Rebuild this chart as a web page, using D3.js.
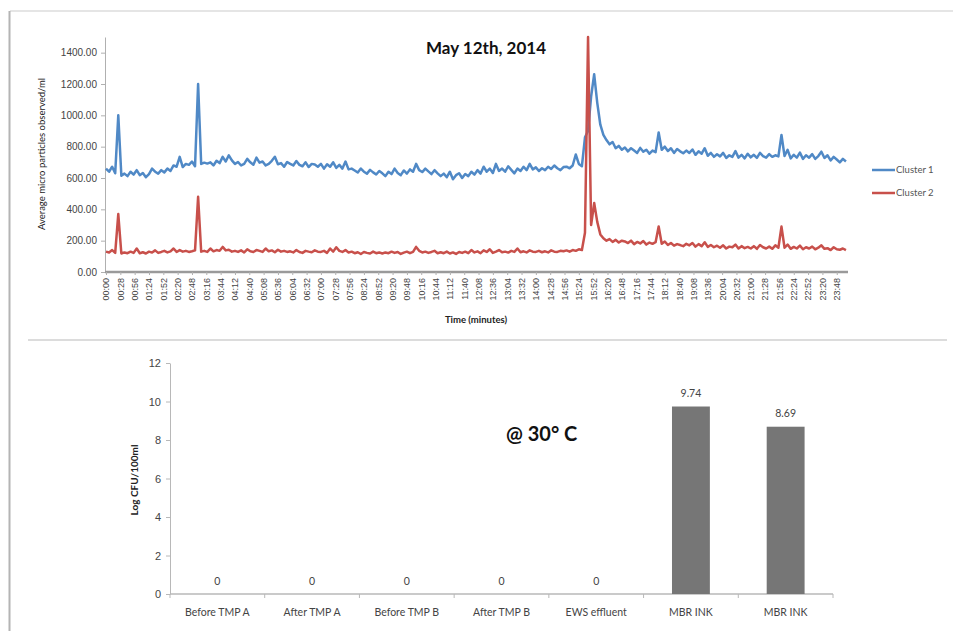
<!DOCTYPE html>
<html>
<head>
<meta charset="utf-8">
<script src="https://cdn.jsdelivr.net/npm/d3@7"></script>
<style>
  body { margin: 0; background: #fff; }
  svg { display: block; font-family: Lato, "Open Sans", sans-serif; }
</style>
</head>
<body>
<script>
// ---- data: top chart, one reading every 6 minutes from 00:00 ----
var stepMinutes = 6;

var cluster1 = [
  660, 640, 672, 630, 1000, 615, 628, 612, 640, 622,
  650, 618, 632, 605, 625, 660, 640, 628, 650, 636,
  660, 645, 680, 672, 735, 670, 690, 684, 705, 675,
  1200, 690, 698, 692, 700, 680, 710, 695, 735, 705,
  745, 712, 690, 702, 680, 690, 722, 700, 685, 730,
  698, 705, 680, 690, 710, 735, 688, 695, 672, 702,
  690, 680, 708, 684, 675, 700, 670, 690, 686, 672,
  690, 660, 688, 672, 700, 665, 684, 660, 705, 655,
  660, 648, 635, 660, 640, 628, 652, 636, 622, 645,
  630, 612, 640, 625, 660, 632, 618, 648, 628, 655,
  640, 690, 650, 638, 660, 642, 625, 650, 630, 612,
  628, 605, 640, 592, 618, 630, 600, 625, 612, 640,
  622, 650, 628, 672, 640, 660, 632, 690, 645, 660,
  640, 675, 652, 630, 660, 645, 672, 650, 690, 655,
  668, 645, 662, 650, 672, 658, 680, 662, 650, 670,
  672, 662, 680, 750, 690, 675, 860, 900, 1120, 1262,
  1080, 940, 875, 842, 815, 830, 790, 805, 780, 795,
  770, 790, 775, 760, 792, 768, 780, 755, 775, 765,
  890, 780, 800, 772, 790, 760, 785, 770, 758, 775,
  760, 782, 748, 770, 755, 790, 742, 760, 735, 752,
  738, 760, 728, 745, 735, 772, 730, 748, 725, 755,
  732, 748, 728, 760, 740, 730, 752, 735, 745, 738,
  875, 740, 780, 725, 748, 730, 762, 722, 745, 730,
  752, 722, 740, 768, 728, 745, 712, 735, 718, 700,
  722, 705
];

var cluster2 = [
  130, 125, 140, 122, 370, 118, 125, 120, 130, 122,
  150, 120, 126, 118, 130, 124, 138, 122, 128, 135,
  125, 132, 150, 128, 140, 130, 135, 128, 132, 138,
  480, 130, 135, 128, 150, 132, 140, 135, 160, 138,
  142, 130, 135, 128, 138, 125, 145, 132, 128, 140,
  135, 128, 150, 132, 138, 126, 142, 130, 135, 128,
  132, 125, 140, 128, 122, 135, 130, 126, 138, 130,
  128, 135, 122, 150, 130, 158, 135, 128, 140, 125,
  130, 120, 126, 115, 128, 122, 118, 130, 120, 125,
  118, 125, 120, 130, 122, 128, 115, 124, 130, 120,
  128, 160, 135, 125, 130, 122, 128, 135, 120, 126,
  120, 130, 118, 125, 115, 128, 122, 130, 120, 140,
  125, 132, 120, 138, 128, 145, 122, 130, 140, 126,
  130, 124, 135, 128, 150, 126, 132, 125, 138, 130,
  128, 135, 126, 132, 125, 138, 130, 128, 135, 132,
  138, 130, 140, 135, 145, 140, 250, 1500, 300, 440,
  320, 240, 215, 200, 210, 192, 205, 188, 200, 195,
  185, 200, 178, 192, 182, 198, 175, 188, 180, 190,
  290, 180, 195, 172, 185, 168, 178, 172, 165, 180,
  170, 185, 162, 178, 165, 190, 160, 172, 158, 168,
  155, 170, 150, 162, 158, 175, 150, 165, 152, 160,
  150, 165, 148, 172, 158, 150, 162, 148, 170, 155,
  290, 155, 175, 148, 160, 150, 168, 145, 158, 150,
  162, 145, 155, 170, 148, 152, 140, 158, 145, 142,
  150, 140
];

var seriesNames = ["Cluster 1", "Cluster 2"];
var seriesColors = ["#5089c6", "#c8504b"];
var lineTicks = [0, 200, 400, 600, 800, 1000, 1200, 1400];
var timeLabelEvery = 28; // minutes between x labels

// ---- data: bottom chart ----
var sites = ["Before TMP A", "After TMP A", "Before TMP B", "After TMP B", "EWS effluent", "MBR INK", "MBR INK"];
var logCfu = [0, 0, 0, 0, 0, 9.74, 8.69];
var barTicks = [0, 2, 4, 6, 8, 10, 12];

var W = 953, H = 631;
var svg = d3.select("body").append("svg").attr("width", W).attr("height", H);

// slide frame
svg.append("line").attr("x1", 10).attr("x2", W).attr("y1", 11).attr("y2", 11)
   .attr("stroke", "#dcdcdc").attr("stroke-width", 1.5);
svg.append("line").attr("x1", 9.5).attr("x2", 9.5).attr("y1", 11).attr("y2", H)
   .attr("stroke", "#b4b4b4").attr("stroke-width", 2);
svg.append("line").attr("x1", 28).attr("x2", 947).attr("y1", 340).attr("y2", 340)
   .attr("stroke", "#d0d0d0").attr("stroke-width", 1.5);

// ================= top: line chart =================
var fmtTime = function(m) {
  var h = Math.floor(m / 60), mm = m % 60;
  return (h < 10 ? "0" : "") + h + ":" + (mm < 10 ? "0" : "") + mm;
};

var x = d3.scaleLinear().domain([0, 1450]).range([106, 848]);
var y = d3.scaleLinear().domain([0, 1500]).range([272, 37]);

var yAxis = svg.append("g").attr("transform", "translate(105,0)")
  .call(d3.axisLeft(y).tickValues(lineTicks).tickFormat(function(d) { return d.toFixed(2); }).tickSize(4).tickSizeOuter(0));
yAxis.select(".domain").attr("stroke", "#b0b0b0");
yAxis.selectAll(".tick line").attr("stroke", "#b0b0b0");
yAxis.selectAll("text").attr("fill", "#444").style("font-size", "10px").attr("x", -8);

var timeTicks = d3.range(0, 1429, timeLabelEvery);
var xAxis = svg.append("g").attr("transform", "translate(0,272)")
  .call(d3.axisBottom(x).tickValues(timeTicks).tickFormat(fmtTime).tickSize(3).tickSizeOuter(0));
xAxis.select(".domain").attr("stroke", "#9a9a9a").attr("stroke-width", 2.5).attr("d", "M105,0H848");
xAxis.selectAll(".tick line").attr("stroke", "#b0b0b0");
xAxis.selectAll("text")
  .attr("fill", "#444").style("font-size", "9px")
  .attr("text-anchor", "end").attr("dy", "0.32em")
  .attr("transform", "translate(0,6) rotate(-90)").attr("y", 0).attr("x", 0);

var line = d3.line()
  .x(function(d, i) { return x(i * stepMinutes); })
  .y(function(d) { return y(d); });

[cluster1, cluster2].forEach(function(s, k) {
  svg.append("path").datum(s)
    .attr("fill", "none")
    .attr("stroke", seriesColors[k])
    .attr("stroke-width", 2.5)
    .attr("stroke-linejoin", "round")
    .attr("d", line);
});

svg.append("text").attr("x", 486).attr("y", 54)
  .attr("text-anchor", "middle").style("font-size", "17px").style("font-weight", "bold")
  .attr("fill", "#111").text("May 12th, 2014");

svg.append("text")
  .attr("transform", "translate(45,154) rotate(-90)")
  .attr("text-anchor", "middle").style("font-size", "9.5px").attr("fill", "#222")
  .text("Average micro particles observed/ml");

svg.append("text").attr("x", 476).attr("y", 323)
  .attr("text-anchor", "middle").style("font-size", "9.5px").style("font-weight", "bold")
  .attr("fill", "#222").text("Time (minutes)");

// legend
seriesNames.forEach(function(n, k) {
  var ly = 170 + k * 23;
  svg.append("line").attr("x1", 872).attr("x2", 895).attr("y1", ly).attr("y2", ly)
    .attr("stroke", seriesColors[k]).attr("stroke-width", 2.5);
  svg.append("text").attr("x", 896).attr("y", ly).attr("dy", "0.35em")
    .style("font-size", "9.5px").attr("fill", "#555").text(n);
});

// ================= bottom: bar chart =================
var bx = d3.scaleBand().domain(d3.range(sites.length)).range([170, 833])
  .paddingInner(0.6).paddingOuter(0.3);
var by = d3.scaleLinear().domain([0, 12]).range([594, 363]);

var byAxis = svg.append("g").attr("transform", "translate(170,0)")
  .call(d3.axisLeft(by).tickValues(barTicks).tickSize(4).tickSizeOuter(0));
byAxis.select(".domain").attr("stroke", "#b8b8b8");
byAxis.selectAll(".tick line").attr("stroke", "#b8b8b8");
byAxis.selectAll("text").attr("fill", "#444").style("font-size", "11px").attr("x", -9);

var seg = bx.step();
var bxAxis = svg.append("g").attr("transform", "translate(0,594)");
bxAxis.append("line").attr("x1", 170).attr("x2", 833).attr("stroke", "#b8b8b8").attr("stroke-width", 1.5);
d3.range(sites.length + 1).forEach(function(i) {
  var bxp = 170 + i * seg;
  bxAxis.append("line").attr("x1", bxp).attr("x2", bxp).attr("y1", 0).attr("y2", 4).attr("stroke", "#b8b8b8");
});
sites.forEach(function(s, i) {
  bxAxis.append("text").attr("x", bx(i) + bx.bandwidth() / 2).attr("y", 18)
    .attr("dy", "0.35em").attr("text-anchor", "middle")
    .style("font-size", "10.5px").attr("fill", "#444").text(s);
});

svg.selectAll("rect.bar").data(logCfu).enter().append("rect")
  .attr("class", "bar")
  .attr("x", function(d, i) { return bx(i); })
  .attr("width", bx.bandwidth())
  .attr("y", function(d) { return by(d); })
  .attr("height", function(d) { return by(0) - by(d); })
  .attr("fill", "#767676");

svg.selectAll("text.val").data(logCfu).enter().append("text")
  .attr("class", "val")
  .attr("x", function(d, i) { return bx(i) + bx.bandwidth() / 2; })
  .attr("y", function(d) { return by(d) - 13; })
  .attr("dy", "0.35em").attr("text-anchor", "middle")
  .style("font-size", "10.5px").attr("fill", "#444")
  .text(function(d) { return d === 0 ? "0" : d.toFixed(2); });

svg.append("text")
  .attr("transform", "translate(134,480) rotate(-90)")
  .attr("text-anchor", "middle").attr("dy", "0.35em")
  .style("font-size", "10px").style("font-weight", "bold").attr("fill", "#222")
  .text("Log CFU/100ml");

svg.append("text").attr("x", 506).attr("y", 441)
  .style("font-size", "20px").style("font-weight", "bold").attr("fill", "#111")
  .text("@ 30° C");
</script>
</body>
</html>
